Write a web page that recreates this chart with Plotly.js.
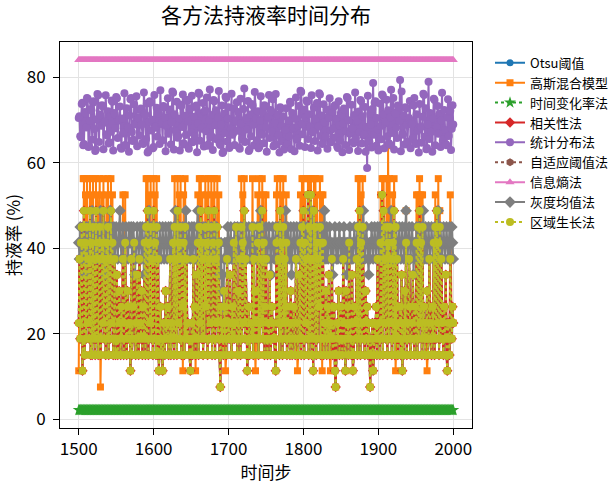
<!DOCTYPE html>
<html>
<head>
<meta charset="utf-8">
<script src="https://cdn.plot.ly/plotly-3.0.1.min.js"></script>
<style>html,body{margin:0;padding:0;background:#fff;}#chart{width:614px;height:484px;}</style>
</head>
<body>
<div id="chart"></div>
<script>
// ---- data ----
const timeSteps = [];
for (let t = 1500; t <= 2000; t++) timeSteps.push(t);

const seriesNames = ["Otsu阈值","高斯混合模型","时间变化率法","相关性法","统计分布法","自适应阈值法","信息熵法","灰度均值法","区域生长法"];
const xTickValues = [1500,1600,1700,1800,1900,2000];
const yTickValues = [0,20,40,60,80];

// 区域生长法 (相关性法, 自适应阈值法 and Otsu阈值 coincide with it in the picture)
const regionGrowth = [
22.5,37.5,18.8,41.3,45,11.3,45,48.8,15,41.3,18.8,45,22.5,37.5,18.8,48.8,15,41.3,15,45,18.8,37.5,15,48.8,18.8,
41.3,15,37.5,45,15,18.8,41.3,22.5,48.8,18.8,37.5,15,41.3,18.8,45,15,37.5,18.8,48.8,22.5,41.3,15,18.8,37.5,15,
18.8,33.8,15,18.8,30,22.5,15,26.3,18.8,37.5,15,22.5,41.3,18.8,15,30,26.3,18.8,22.5,11.3,37.5,15,18.8,26.3,41.3,
18.8,15,22.5,33.8,18.8,15,37.5,22.5,18.8,30,15,26.3,18.8,41.3,15,45,18.8,48.8,15,41.3,22.5,45,18.8,37.5,15,
48.8,18.8,41.3,15,45,15,37.5,11.3,18.8,26.3,15,18.8,11.3,22.5,18.8,15,30,18.8,22.5,26.3,15,18.8,37.5,15,22.5,
18.8,41.3,15,45,18.8,37.5,15,48.8,22.5,41.3,18.8,45,15,37.5,26.3,41.3,15,45,18.8,37.5,18.8,22.5,18.8,15,11.3,
18.8,22.5,15,37.5,18.8,26.3,15,33.8,18.8,41.3,15,45,22.5,48.8,18.8,41.3,15,37.5,18.8,45,26.3,41.3,15,48.8,18.8,
37.5,22.5,45,15,41.3,18.8,48.8,15,37.5,22.5,45,18.8,41.3,15,7.5,26.3,18.8,22.5,15,30,18.8,26.3,15,37.5,18.8,
22.5,18.8,33.8,18.8,15,26.3,18.8,41.3,18.8,22.5,45,18.8,15,30,18.8,37.5,15,45,18.8,41.3,22.5,48.8,18.8,37.5,15,
11.3,18.8,26.3,15,18.8,22.5,18.8,45,15,37.5,18.8,30,22.5,18.8,41.3,15,45,18.8,37.5,22.5,48.8,18.8,41.3,15,26.3,
37.5,18.8,15,22.5,18.8,33.8,15,18.8,26.3,18.8,22.5,18.8,15,11.3,41.3,45,22.5,37.5,15,48.8,18.8,41.3,15,45,22.5,
37.5,18.8,41.3,15,26.3,18.8,22.5,15,30,18.8,15,22.5,26.3,18.8,15,37.5,22.5,18.8,15,33.8,18.8,41.3,15,45,18.8,
48.8,15,41.3,22.5,37.5,18.8,52.5,15,45,18.8,52.5,15,37.5,11.3,48.8,18.8,45,15,41.3,18.8,37.5,26.3,45,15,41.3,
18.8,41.3,15,22.5,18.8,30,15,26.3,18.8,33.8,15,22.5,18.8,37.5,15,18.8,26.3,11.3,7.5,15,22.5,18.8,30,15,18.8,
26.3,18.8,15,37.5,22.5,18.8,11.3,30,18.8,26.3,15,41.3,18.8,22.5,15,33.8,11.3,15,26.3,22.5,18.8,37.5,15,45,18.8,
48.8,15,41.3,18.8,45,22.5,18.8,15,30,18.8,26.3,15,22.5,18.8,7.5,15,18.8,22.5,11.3,15,22.5,18.8,26.3,15,37.5,
18.8,22.5,15,41.3,18.8,52.5,15,48.8,22.5,37.5,18.8,45,15,41.3,18.8,45,22.5,37.5,15,41.3,18.8,48.8,15,45,18.8,
37.5,15,22.5,18.8,26.3,15,33.8,11.3,22.5,15,30,18.8,41.3,15,22.5,18.8,37.5,26.3,15,18.8,22.5,33.8,18.8,15,26.3,
18.8,41.3,15,45,18.8,48.8,22.5,41.3,15,45,18.8,26.3,15,22.5,18.8,30,15,18.8,37.5,22.5,18.8,15,26.3,18.8,41.3,
15,45,18.8,48.8,22.5,41.3,15,45,18.8,37.5,22.5,18.8,15,26.3,18.8,33.8,15,11.3,22.5,18.8,15,37.5,22.5,18.8,26.3,
22.5];
const correlation = regionGrowth;
const adaptiveThreshold = regionGrowth;
const otsu = regionGrowth;

// 高斯混合模型
const gmm = [
11.3,37.5,18.8,41.3,45,11.3,56.3,56.3,15,52.5,18.8,56.3,22.5,37.5,18.8,56.3,15,52.5,15,56.3,18.8,37.5,15,56.3,18.8,
52.5,15,37.5,56.3,7.5,18.8,52.5,22.5,56.3,18.8,37.5,15,52.5,18.8,56.3,15,37.5,18.8,56.3,22.5,52.5,15,18.8,37.5,15,
18.8,33.8,15,18.8,30,22.5,15,26.3,18.8,52.5,15,22.5,52.5,18.8,15,30,26.3,18.8,22.5,11.3,37.5,15,18.8,26.3,41.3,
18.8,15,22.5,33.8,18.8,15,37.5,22.5,18.8,30,15,26.3,18.8,41.3,15,56.3,18.8,56.3,15,52.5,22.5,56.3,18.8,37.5,15,
56.3,18.8,52.5,15,56.3,15,37.5,11.3,18.8,26.3,15,18.8,11.3,22.5,18.8,15,30,18.8,22.5,26.3,15,18.8,37.5,15,22.5,
18.8,41.3,15,56.3,18.8,37.5,15,56.3,22.5,52.5,18.8,56.3,15,37.5,11.3,52.5,15,56.3,18.8,37.5,18.8,22.5,18.8,15,11.3,
18.8,22.5,15,37.5,18.8,26.3,11.3,33.8,18.8,52.5,15,56.3,22.5,56.3,18.8,52.5,15,37.5,18.8,56.3,26.3,52.5,15,56.3,18.8,
37.5,22.5,56.3,15,52.5,18.8,56.3,15,37.5,22.5,56.3,18.8,52.5,15,7.5,26.3,18.8,22.5,15,30,18.8,11.3,15,37.5,18.8,
22.5,18.8,33.8,18.8,15,26.3,18.8,41.3,18.8,22.5,45,18.8,15,30,18.8,37.5,15,56.3,18.8,52.5,22.5,56.3,18.8,37.5,15,
11.3,18.8,26.3,15,18.8,22.5,18.8,56.3,15,37.5,18.8,11.3,22.5,18.8,52.5,15,56.3,18.8,37.5,22.5,56.3,18.8,52.5,15,26.3,
52.5,18.8,15,22.5,18.8,33.8,15,18.8,26.3,18.8,22.5,18.8,15,11.3,52.5,56.3,22.5,37.5,15,56.3,18.8,52.5,15,56.3,22.5,
37.5,18.8,52.5,15,26.3,18.8,22.5,15,30,18.8,15,22.5,26.3,18.8,15,37.5,22.5,11.3,15,33.8,18.8,52.5,15,56.3,18.8,
56.3,15,52.5,22.5,37.5,18.8,56.3,15,56.3,18.8,56.3,15,37.5,11.3,56.3,18.8,56.3,15,52.5,18.8,37.5,26.3,56.3,15,52.5,
11.3,52.5,15,22.5,18.8,30,15,26.3,18.8,33.8,15,11.3,18.8,37.5,15,18.8,26.3,11.3,7.5,15,22.5,18.8,30,15,18.8,
26.3,18.8,15,37.5,22.5,18.8,11.3,30,18.8,26.3,15,41.3,18.8,22.5,15,33.8,11.3,15,26.3,22.5,18.8,37.5,15,56.3,18.8,
56.3,15,52.5,18.8,56.3,22.5,18.8,15,30,18.8,26.3,15,22.5,18.8,7.5,15,18.8,22.5,11.3,15,22.5,18.8,26.3,15,37.5,
18.8,22.5,15,52.5,18.8,56.3,15,56.3,22.5,37.5,18.8,56.3,15,64,18.8,56.3,22.5,37.5,15,52.5,18.8,56.3,15,11.3,18.8,
37.5,15,22.5,18.8,26.3,15,33.8,11.3,22.5,15,30,18.8,48.8,15,22.5,18.8,37.5,26.3,15,18.8,22.5,33.8,18.8,15,26.3,
18.8,52.5,15,52.5,18.8,56.3,22.5,52.5,15,52.5,18.8,26.3,15,22.5,18.8,11.3,15,18.8,37.5,22.5,18.8,15,26.3,18.8,41.3,
15,52.5,18.8,48.8,22.5,56.3,15,48.8,18.8,37.5,22.5,18.8,15,26.3,18.8,33.8,15,11.3,22.5,18.8,15,52.5,22.5,18.8,26.3,
22.5];

// 统计分布法
const statDist = [
70.5,70.9,66.2,66.0,73.8,74.1,64.1,64.4,71.9,71.6,68.3,75.2,75.0,63.7,63.9,69.8,72.6,72.3,65.4,74.1,74.4,67.9,62.8,63.1,70.2,
76.1,75.8,64.9,71.3,71.0,68.7,73.5,73.2,63.2,69.4,69.7,75.8,66.7,66.4,72.1,64.5,64.8,70.9,67.3,74.6,74.3,62.9,71.7,71.4,68.1,
75.4,75.1,65.8,69.9,70.2,73.2,63.6,63.3,70.4,66.9,67.2,76.3,64.2,64.0,72.8,68.5,68.2,62.6,71.1,74.9,75.2,67.2,65.1,65.4,73.7,
69.3,69.0,75.6,63.9,70.7,70.4,66.4,72.4,72.7,68.9,64.7,64.4,76.5,71.5,71.2,65.6,73.9,62.4,62.7,69.6,74.4,74.1,67.6,70.1,63.4,
63.7,75.9,68.2,68.5,72.9,66.1,71.8,71.5,64.4,77.0,69.1,69.4,65.3,73.3,73.0,70.6,62.7,68.6,68.9,75.1,66.8,72.2,72.5,64.3,69.5,
76.7,76.4,63.1,71.4,67.7,67.4,74.3,65.9,66.2,70.3,62.9,73.6,73.3,68.4,76.0,64.6,64.3,71.0,66.5,74.8,74.5,69.7,63.3,72.5,72.8,
67.1,75.7,64.8,65.1,70.8,66.3,73.1,73.4,62.5,69.2,76.4,76.1,65.2,71.6,68.0,68.3,74.0,63.8,72.0,72.3,67.4,75.3,64.0,64.3,70.0,
77.2,66.0,66.3,71.2,63.0,74.7,74.4,68.8,72.3,65.5,65.8,70.6,76.8,64.5,64.2,69.0,73.4,62.3,62.6,71.5,67.0,75.5,75.2,65.0,70.4,
73.0,63.5,63.8,68.0,76.2,66.6,66.9,72.7,64.2,69.6,69.9,74.2,67.5,71.9,63.6,63.3,75.0,69.3,65.7,65.4,72.6,77.4,64.9,70.2,70.5,
67.8,74.5,62.8,63.1,71.3,66.2,73.8,73.5,68.9,64.1,76.6,70.7,70.4,65.3,72.1,63.4,63.7,69.8,75.6,66.9,66.6,71.8,64.6,73.5,73.2,
68.3,62.6,70.5,70.8,75.9,65.8,72.4,72.1,67.3,74.9,63.9,64.2,69.4,76.1,64.3,71.0,71.3,66.5,62.4,73.0,72.7,68.6,65.0,70.9,63.1,
63.4,67.7,72.8,64.7,64.4,69.9,66.1,74.3,74.0,63.2,71.7,67.9,68.2,62.7,70.3,75.3,65.4,65.7,68.7,73.3,64.0,76.9,76.6,69.1,66.7,
72.2,72.5,63.7,70.6,74.6,74.3,65.6,71.4,68.2,68.5,63.5,75.8,67.1,67.4,72.9,65.1,70.1,70.4,74.0,62.9,68.5,76.3,76.0,66.3,71.1,
64.4,64.7,73.7,69.5,65.9,66.2,72.5,63.3,70.8,70.5,75.1,67.6,64.8,65.1,71.9,68.0,73.2,73.5,66.0,70.4,63.8,63.5,74.4,68.8,65.2,
71.6,71.3,62.5,69.2,72.7,72.4,64.2,67.4,75.4,75.1,70.0,63.0,66.8,67.1,73.6,68.1,64.9,64.6,71.2,76.5,65.7,69.7,70.0,62.8,72.0,
67.2,74.7,74.4,64.5,70.9,66.4,66.7,73.1,62.6,68.4,58.8,75.7,65.3,65.0,71.5,69.0,63.6,72.6,78.7,66.6,74.1,74.4,64.0,70.5,67.8,
62.9,63.2,73.9,68.6,65.5,76.0,75.7,71.3,63.4,69.3,69.6,74.8,66.2,72.3,64.6,64.3,70.7,77.1,67.0,67.3,75.2,63.1,71.8,71.5,68.3,
65.8,73.4,73.1,69.8,79.4,62.7,76.7,66.9,66.6,71.0,64.3,73.0,72.7,68.9,65.0,70.2,70.5,74.5,63.4,69.3,69.0,65.8,73.4,75.2,64.7,
64.4,71.4,67.5,67.8,62.4,73.8,68.2,68.5,64.7,70.8,76.2,75.9,66.1,72.8,63.2,63.5,69.0,79.0,65.6,71.7,71.4,67.3,62.6,70.3,75.0,
74.7,64.1,68.7,68.4,73.3,66.8,71.2,71.5,63.7,69.9,76.4,65.2,65.5,72.4,67.7,64.4,64.1,70.6,74.9,66.3,71.9,72.2,63.0,68.0,73.5,
69.0];

// 灰度均值法
const grayMean = [
41.3,37.5,45,41.3,37.5,41.3,45,37.5,41.3,33.8,45,41.3,37.5,45,41.3,37.5,45,41.3,48.8,41.3,37.5,45,41.3,37.5,45,
41.3,37.5,45,41.3,48.8,37.5,41.3,45,37.5,41.3,33.8,45,41.3,37.5,41.3,45,37.5,48.8,41.3,45,37.5,41.3,45,37.5,41.3,
45,41.3,37.5,41.3,45,48.8,41.3,37.5,41.3,45,41.3,37.5,41.3,45,41.3,41.3,37.5,45,41.3,41.3,45,37.5,41.3,45,41.3,
33.8,37.5,41.3,45,41.3,37.5,41.3,45,41.3,37.5,45,41.3,33.8,41.3,45,41.3,37.5,41.3,45,48.8,41.3,37.5,45,41.3,37.5,
45,41.3,37.5,41.3,45,41.3,41.3,37.5,45,41.3,37.5,41.3,45,41.3,37.5,41.3,45,41.3,37.5,41.3,45,41.3,37.5,45,41.3,
37.5,41.3,45,41.3,48.8,41.3,37.5,45,41.3,37.5,45,41.3,37.5,41.3,45,41.3,37.5,45,48.8,41.3,37.5,41.3,45,41.3,37.5,
41.3,45,37.5,41.3,45,41.3,37.5,41.3,45,48.8,41.3,37.5,45,41.3,37.5,41.3,45,41.3,37.5,45,41.3,37.5,41.3,45,41.3,
37.5,41.3,45,41.3,37.5,41.3,45,37.5,41.3,45,41.3,37.5,41.3,33.8,37.5,41.3,30,33.8,26.3,37.5,41.3,37.5,41.3,37.5,45,
41.3,37.5,41.3,45,37.5,41.3,37.5,41.3,45,41.3,37.5,41.3,45,41.3,37.5,41.3,45,41.3,37.5,41.3,45,37.5,41.3,45,41.3,
37.5,41.3,45,41.3,37.5,41.3,45,41.3,37.5,45,41.3,37.5,41.3,45,41.3,37.5,45,41.3,48.8,41.3,37.5,45,41.3,37.5,41.3,
45,41.3,37.5,41.3,45,41.3,37.5,33.8,41.3,45,41.3,37.5,41.3,45,41.3,37.5,41.3,45,41.3,37.5,45,41.3,37.5,41.3,45,
41.3,48.8,41.3,37.5,45,41.3,37.5,41.3,45,33.8,37.5,41.3,45,41.3,37.5,41.3,45,41.3,37.5,41.3,45,41.3,37.5,45,41.3,
37.5,41.3,45,41.3,37.5,45,41.3,37.5,41.3,45,41.3,48.8,41.3,37.5,45,41.3,37.5,41.3,45,41.3,37.5,41.3,45,37.5,41.3,
45,41.3,37.5,48.8,41.3,37.5,45,41.3,37.5,41.3,45,41.3,37.5,41.3,33.8,37.5,41.3,45,41.3,37.5,41.3,37.5,41.3,45,41.3,
37.5,41.3,41.3,37.5,45,41.3,37.5,41.3,33.8,41.3,37.5,41.3,45,41.3,37.5,41.3,37.5,41.3,45,41.3,37.5,41.3,45,41.3,37.5,
41.3,45,41.3,37.5,45,48.8,41.3,37.5,41.3,45,41.3,37.5,33.8,41.3,37.5,41.3,45,41.3,37.5,41.3,45,41.3,37.5,41.3,45,
41.3,37.5,45,41.3,37.5,45,41.3,37.5,41.3,45,41.3,37.5,45,41.3,37.5,41.3,45,48.8,41.3,37.5,45,41.3,37.5,41.3,45,
41.3,37.5,41.3,45,41.3,37.5,41.3,45,41.3,37.5,41.3,45,48.8,41.3,37.5,41.3,45,41.3,37.5,41.3,45,41.3,33.8,41.3,37.5,
41.3,45,37.5,41.3,45,41.3,37.5,41.3,45,41.3,48.8,41.3,37.5,45,41.3,37.5,41.3,45,41.3,37.5,41.3,45,41.3,37.5,41.3,
45,41.3,37.5,41.3,45,48.8,41.3,37.5,45,41.3,37.5,41.3,45,41.3,37.5,41.3,45,41.3,37.5,41.3,45,37.5,41.3,45,41.3,
37.5];

// constant levels seen as flat bands
const infoEntropyLevel = 84.1;
const timeRateLevel = 2.1;
const infoEntropy = timeSteps.map(() => infoEntropyLevel);
const timeRate = timeSteps.map(() => timeRateLevel);

const colors = ["#1f77b4","#ff7f0e","#2ca02c","#d62728","#9467bd","#8c564b","#e377c2","#7f7f7f","#bcbd22"];

// ---- traces ----
function tr(name, y, color, symbol, size, dash) {
  return {
    type: "scatter", mode: "lines+markers", name: name, x: timeSteps, y: y,
    line: {color: color, width: 2, dash: dash || "solid"},
    marker: {color: color, symbol: symbol, size: size, line: {width: 0}}
  };
}
const data = [
  tr(seriesNames[0], otsu, colors[0], "circle", 7),
  tr(seriesNames[1], gmm, colors[1], "square", 7),
  tr(seriesNames[2], timeRate, colors[2], "star", 9, "dot"),
  tr(seriesNames[3], correlation, colors[3], "diamond", 8),
  tr(seriesNames[4], statDist, colors[4], "circle", 8),
  tr(seriesNames[5], adaptiveThreshold, colors[5], "hexagon", 8, "dot"),
  tr(seriesNames[6], infoEntropy, colors[6], "triangle-up", 8),
  tr(seriesNames[7], grayMean, colors[7], "diamond", 9),
  tr(seriesNames[8], regionGrowth, colors[8], "circle", 8, "dot")
];

const font = "'Noto Sans CJK SC', 'DejaVu Sans', sans-serif";
const layout = {
  width: 614, height: 484,
  margin: {l: 60, r: 142, t: 42, b: 56, pad: 0, autoexpand: false},
  paper_bgcolor: "#fff", plot_bgcolor: "#fff",
  font: {family: font, color: "#000", size: 17},
  title: {text: "各方法持液率时间分布", font: {family: font, size: 21, color: "#000"},
          x: 0.5, xref: "paper", xanchor: "center", y: 0.968, yref: "container", yanchor: "middle"},
  xaxis: {
    range: [1475, 2025], tickvals: xTickValues, ticktext: xTickValues.map(String),
    ticks: "outside", ticklen: 6, tickwidth: 1, tickcolor: "#000",
    showgrid: true, gridcolor: "#e3e3e3", gridwidth: 1, zeroline: false,
    showline: true, linecolor: "#000", linewidth: 1, mirror: true,
    tickfont: {family: font, size: 17},
    title: {text: "时间步", font: {family: font, size: 17}, standoff: 6}
  },
  yaxis: {
    range: [-2.1, 88.3], tickvals: yTickValues, ticktext: yTickValues.map(String),
    ticks: "outside", ticklen: 6, tickwidth: 1, tickcolor: "#000",
    ticklabelstandoff: 4,
    showgrid: true, gridcolor: "#e3e3e3", gridwidth: 1, zeroline: false,
    showline: true, linecolor: "#000", linewidth: 1, mirror: true,
    tickfont: {family: font, size: 17},
    title: {text: "持液率 (%)", font: {family: font, size: 17}, standoff: 6}
  },
  showlegend: true,
  legend: {x: 1.0437, xanchor: "left", y: 0.985, yanchor: "top",
           font: {family: font, size: 13, color: "#000"}, bgcolor: "rgba(0,0,0,0)",
           borderwidth: 0, tracegroupgap: 0}
};
Plotly.newPlot("chart", data, layout, {staticPlot: true, displayModeBar: false});
</script>
</body>
</html>
